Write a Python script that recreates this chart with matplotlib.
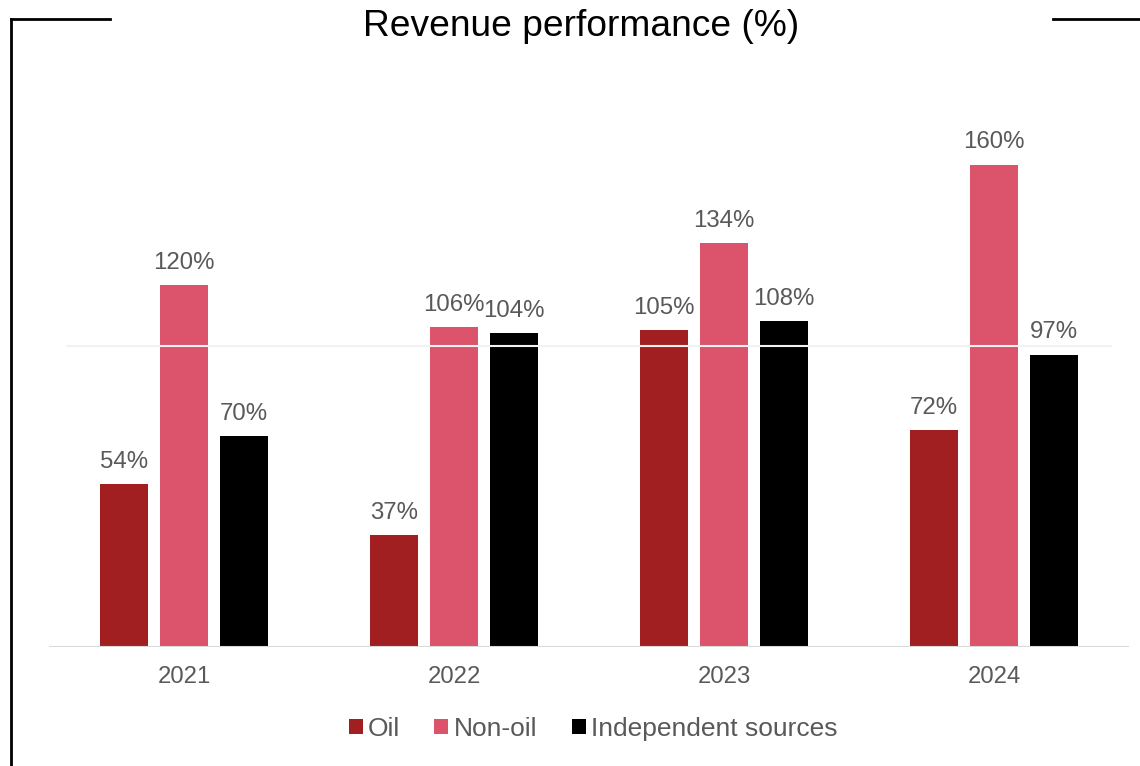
import matplotlib.pyplot as plt
import matplotlib.lines as mlines
import numpy as np
from matplotlib import rcParams

rcParams['font.family'] = ['Liberation Sans', 'DejaVu Sans']

#---- data ----#
years = ['2021', '2022', '2023', '2024']
oil = [54, 37, 105, 72]
non_oil = [120, 106, 134, 160]
independent = [70, 104, 108, 97]

series = [('Oil', oil, '#A21F21'),
          ('Non-oil', non_oil, '#DC546B'),
          ('Independent sources', independent, '#000000')]

txt_color = '#595959'

#---- figure ----#
fig = plt.figure(figsize=(11.4, 7.66), dpi=100)
ax = fig.add_axes([49/1140, 119/766, 1080/1140, 603/766])

x = np.arange(len(years))
w = 0.178
step = 0.222

for i, (name, vals, col) in enumerate(series):
    pos = x + (i - 1)*step
    bars = ax.bar(pos, vals, width=w, color=col, label=name, zorder=2)
    for b, v in zip(bars, vals):
        ax.annotate('%d%%' % v, (b.get_x() + b.get_width()/2, v),
                    xytext=(0, 8), textcoords='offset points',
                    ha='center', va='bottom', fontsize=17.3, color=txt_color)

# light gridline at 100 drawn over the bars
ax.axhline(100, xmin=0.017, xmax=0.983, color='#F2F2F2', lw=1.5, zorder=3)
ax.axhline(0, color='#D9D9D9', lw=1.5, zorder=3)

ax.set_xlim(-0.5, 3.5)
ax.set_ylim(0, 200)
ax.set_xticks(x)
ax.set_xticklabels(years, fontsize=17.2, color=txt_color)
ax.tick_params(axis='x', length=0, pad=14)
ax.set_yticks([])
for s in ax.spines.values():
    s.set_visible(False)

leg = ax.legend(loc='center', bbox_to_anchor=(593/1140, 37/766),
                bbox_transform=fig.transFigure, ncol=3, frameon=False,
                fontsize=19, handlelength=0.53, handleheight=0.53,
                handletextpad=0.2, columnspacing=1.3)
for t in leg.get_texts():
    t.set_color(txt_color)

fig.text(581/1140, 1 - 26/766, 'Revenue performance (%)', ha='center',
         va='center', fontsize=26.7, color='black')

# frame around the chart, broken by the title
yt = 1 - 19/766
fig.add_artist(mlines.Line2D([11/1140, 11/1140], [0, yt], color='black', lw=2))
fig.add_artist(mlines.Line2D([11/1140, 110/1140], [yt, yt], color='black', lw=2))
fig.add_artist(mlines.Line2D([1053/1140, 1], [yt, yt], color='black', lw=2))

plt.savefig('out.png', dpi=100)
